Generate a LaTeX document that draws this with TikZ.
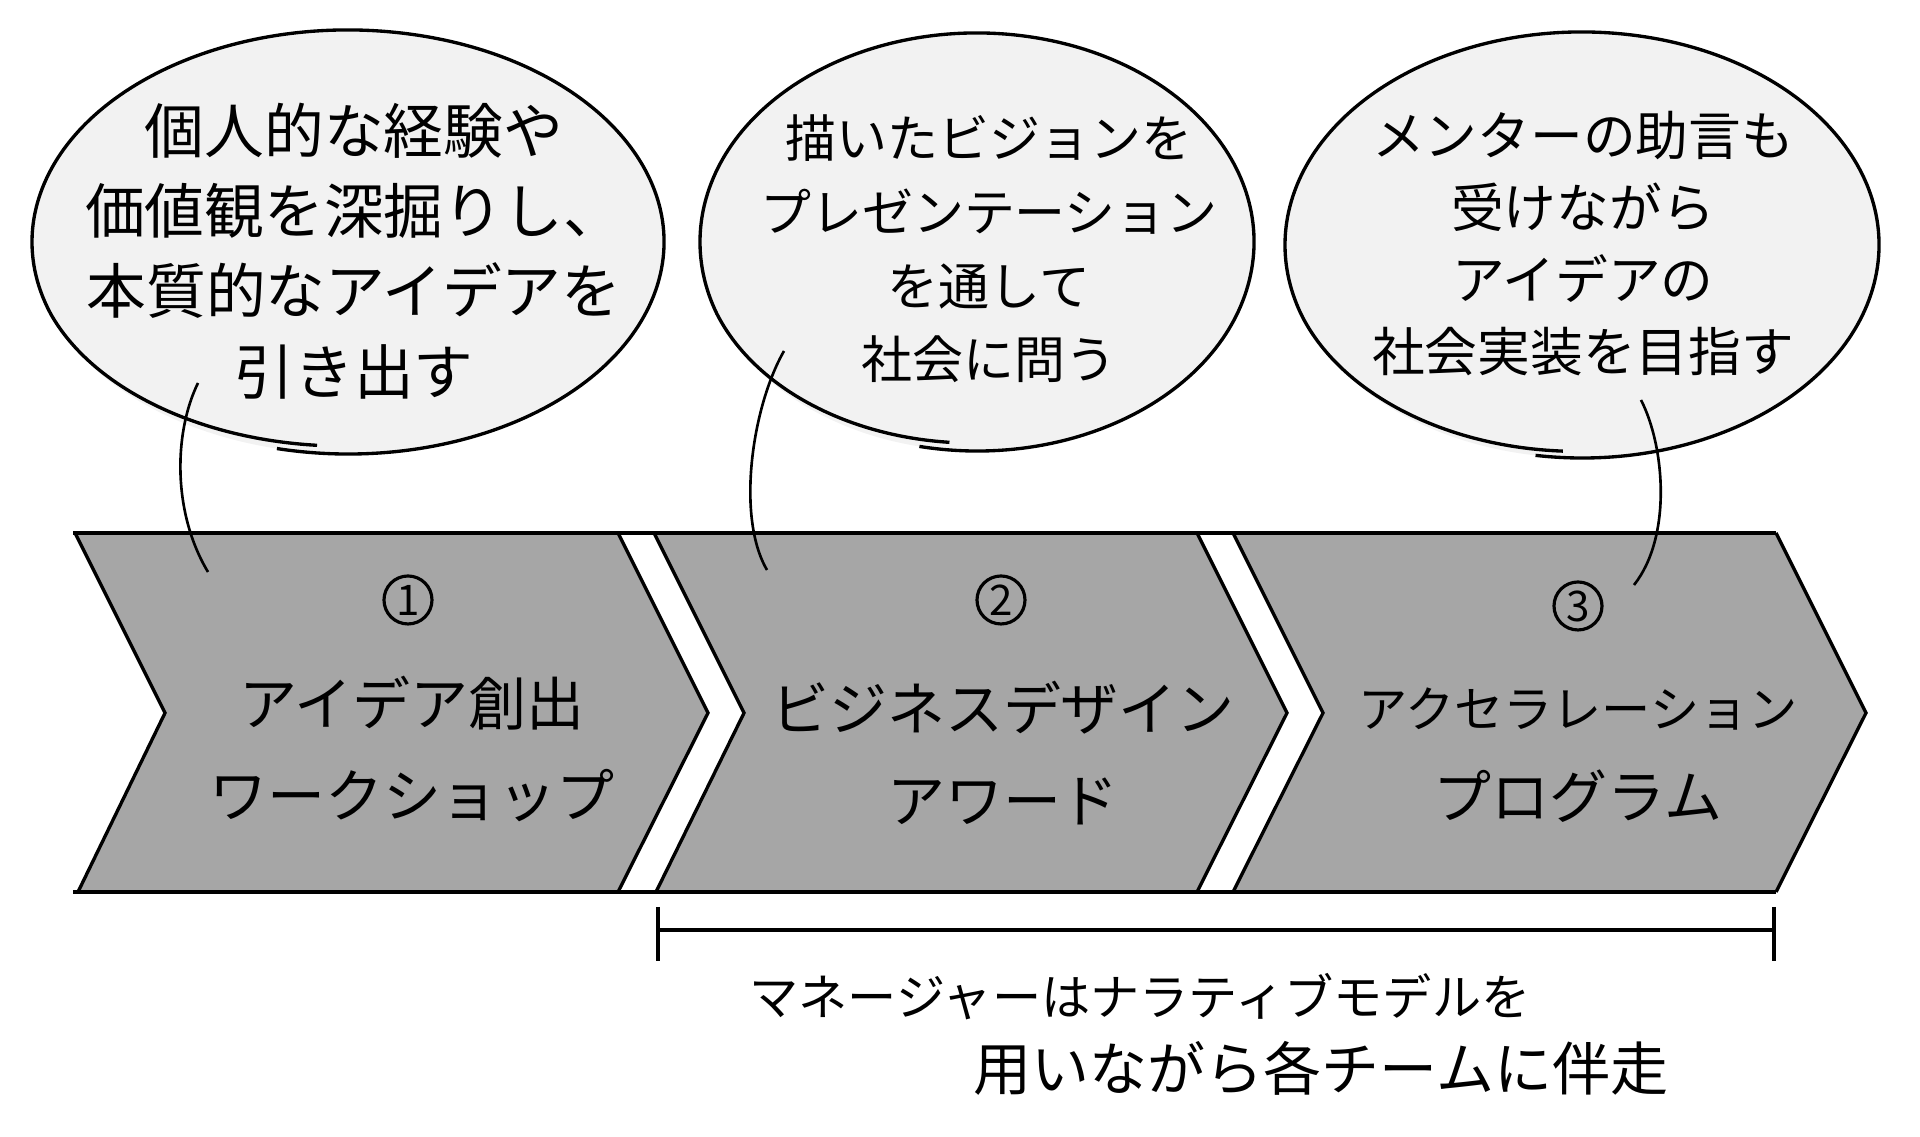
\documentclass[tikz,border=0pt]{standalone}
\usepackage{fontspec}
\newfontfamily\jpfont{Noto Sans CJK JP}
\usepackage{xcolor}
\definecolor{bubblegray}{gray}{0.95}
\definecolor{stepgray}{gray}{0.65}
\usetikzlibrary{positioning,calc}

\begin{document}
\begin{tikzpicture}[x=0.1mm, y=0.1mm,
		bubbleline/.style={draw=black, line width=0.95pt},
		bubbletext/.style={font=\jpfont\fontsize{15pt}{21pt}\selectfont, align=center, inner sep=0pt},
		edge/.style={draw=black, line width=0.95pt},
		rail/.style={draw=black, line width=1.2pt},
		steplabel/.style={font=\jpfont\fontsize{16.5pt}{26pt}\selectfont, align=center, inner sep=0pt},
		num/.style={draw=black, circle, line width=0.9pt, minimum size=4.8mm, inner sep=0pt, font=\jpfont\fontsize{12pt}{12pt}\selectfont},
		link/.style={draw=black, line width=0.75pt},
		note/.style={font=\jpfont\fontsize{14pt}{18pt}\selectfont, inner sep=0pt}]
	\useasboundingbox (0,0) rectangle (1920,1137);

	\fill[bubblegray] (348,895) ellipse [x radius=316, y radius=212];
	\draw[bubbleline] (348,895) ++(257:316 and 212) arc[start angle=257, end angle=560, x radius=316, y radius=212] arc[start angle=200, end angle=265, x radius=312, y radius=200];
	\fill[bubblegray] (977,895) ellipse [x radius=277, y radius=209];
	\draw[bubbleline] (977,895) ++(258:277 and 209) arc[start angle=258, end angle=560, x radius=277, y radius=209] arc[start angle=200, end angle=265, x radius=273, y radius=197];
	\fill[bubblegray] (1582,892) ellipse [x radius=297, y radius=213];
	\draw[bubbleline] (1582,892) ++(261:297 and 213) arc[start angle=261, end angle=560, x radius=297, y radius=213] arc[start angle=200, end angle=267, x radius=293, y radius=203];

	\node[bubbletext, font=\jpfont\fontsize{17pt}{22.8pt}\selectfont] (b1) at (354,886) {個人的な経験や\\価値観を深掘りし、\\本質的なアイデアを\\引き出す};
	\node[bubbletext, font=\jpfont\fontsize{14.5pt}{21pt}\selectfont] (b2) at (989,888) {描いたビジョンを\\プレゼンテーション\\を通して\\社会に問う};
	\node[bubbletext, font=\jpfont\fontsize{15pt}{20.5pt}\selectfont] (b3) at (1583,893) {メンターの助言も\\受けながら\\アイデアの\\社会実装を目指す};

	\fill[stepgray] (75,604) -- (618,604) -- (708,424) -- (618,245) -- (78,245) -- (165,424) -- cycle;
	\fill[stepgray] (654,604) -- (1197,604) -- (1287,424) -- (1197,245) -- (656,245) -- (744,424) -- cycle;
	\fill[stepgray] (1233,604) -- (1776,604) -- (1866,424) -- (1776,245) -- (1233,245) -- (1323,424) -- cycle;
	\draw[edge] (75,604) -- (165,424) -- (78,245);
	\draw[edge] (618,604) -- (708,424) -- (618,245);
	\draw[edge] (654,604) -- (744,424) -- (656,245);
	\draw[edge] (1197,604) -- (1287,424) -- (1197,245);
	\draw[edge] (1233,604) -- (1323,424) -- (1233,245);
	\draw[edge] (1776,604) -- (1866,424) -- (1776,245);
	\draw[rail] (73,604) -- (1776,604);
	\draw[rail] (73,245) -- (1776,245);

	\node[num] (n1) at (408,537) {1};
	\node[num] (n2) at (1001,537) {2};
	\node[num] (n3) at (1578,531) {3};
	\node[steplabel] (s1) at (412,388) {アイデア創出\\ワークショップ};
	\node[steplabel] (s2) at (1003,384) {ビジネスデザイン\\アワード};
	\node[steplabel] (s3) at (1578,382) {{\fontsize{14pt}{26pt}\selectfont アクセラレーション}\\プログラム};

	\coordinate (c1s) at (198,754);
	\coordinate (c1e) at (208,565);
	\coordinate (c2s) at (784,786);
	\coordinate (c2e) at (767,567);
	\coordinate (c3s) at (1641,737);
	\coordinate (c3e) at (1634,552);
	\draw[link] (c1s) .. controls (174,705) and (172,625) .. (c1e);
	\draw[link] (c2s) .. controls (752,730) and (736,620) .. (c2e);
	\draw[link] (c3s) .. controls (1665,690) and (1672,600) .. (c3e);

	\coordinate (brl) at (658,207);
	\coordinate (brr) at (1774,207);
	\draw[edge] (brl) -- (brr);
	\draw[edge] (658,230) -- (658,176);
	\draw[edge] (1774,230) -- (1774,176);
	\node[note] (m1) at (1140,140) {マネージャーはナラティブモデルを};
	\node[note, font=\jpfont\fontsize{16.5pt}{18pt}\selectfont] (m2) at (1321,69) {用いながら各チームに伴走};
\end{tikzpicture}
\end{document}
